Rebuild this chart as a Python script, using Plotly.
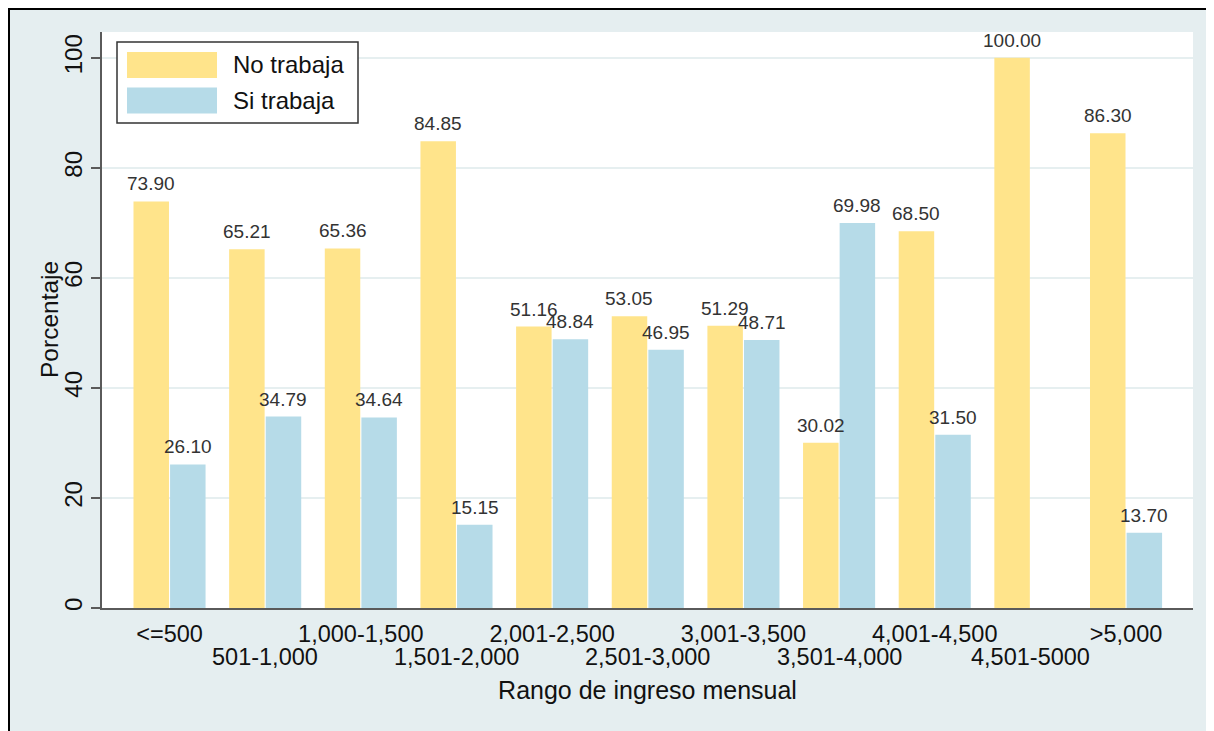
import plotly.graph_objects as go

# ---- data ----
categories = ["<=500", "501-1,000", "1,000-1,500", "1,501-2,000", "2,001-2,500",
              "2,501-3,000", "3,001-3,500", "3,501-4,000", "4,001-4,500",
              "4,501-5000", ">5,000"]
no_trabaja = [73.90, 65.21, 65.36, 84.85, 51.16, 53.05, 51.29, 30.02, 68.50, 100.00, 86.30]
si_trabaja = [26.10, 34.79, 34.64, 15.15, 48.84, 46.95, 48.71, 69.98, 31.50, None, 13.70]
series_names = ["No trabaja", "Si trabaja"]
y_ticks = [0, 20, 40, 60, 80, 100]

# ---- styling ----
OFF = 8  # page body margin
W, H = 1206, 723
ML, MR, MT, MB = 94, 21, 24, 123
PW, PH = W - ML - MR, H - MT - MB
YELLOW = "#FFE48B"
BLUE = "#B6DBE8"
BG = "#E5EEF0"
FONT = "Liberation Sans, Arial, sans-serif"
BARGAP = 0.235


def px_x(p):  # screen px -> paper
    return (p - OFF - ML) / PW


def px_y(p):
    return (H - MB - (p - OFF)) / PH


xs = list(range(len(categories)))
series = [(series_names[0], no_trabaja, YELLOW), (series_names[1], si_trabaja, BLUE)]

fig = go.Figure()
for name, vals, col in series:
    fig.add_trace(go.Bar(
        x=xs, y=vals, name=name,
        marker=dict(color=col, line=dict(width=0)),
        cliponaxis=False, showlegend=False,
        hovertemplate="%{y:.2f}<extra>" + name + "</extra>",
    ))

shapes = []
annotations = []

# value labels above bars (drawn on top of everything)
for k, (name, vals, col) in enumerate(series):
    off = (k - 0.5) * (1 - BARGAP) / 2
    for i, v in zip(xs, vals):
        if v is None:
            continue
        annotations.append(dict(xref="x", yref="y", x=i + off, y=v, text=f"{v:.2f}",
                                showarrow=False, xanchor="center", yanchor="bottom", yshift=5,
                                font=dict(size=19, color="#333333", family=FONT)))

# black border on left/top
shapes.append(dict(type="line", xref="paper", yref="paper", x0=px_x(8.5), x1=px_x(8.5),
                   y0=px_y(H + 20), y1=px_y(7), line=dict(color="black", width=3)))
shapes.append(dict(type="line", xref="paper", yref="paper", x0=px_x(7), x1=px_x(W + 20),
                   y0=px_y(8.5), y1=px_y(8.5), line=dict(color="black", width=3)))

# legend box
shapes.append(dict(type="rect", xref="paper", yref="paper", x0=px_x(117), x1=px_x(358),
                   y0=px_y(123), y1=px_y(42), fillcolor="white",
                   line=dict(color="#333333", width=1.5), layer="above"))
for name, col, yc in [(series_names[0], YELLOW, 65), (series_names[1], BLUE, 100.5)]:
    shapes.append(dict(type="rect", xref="paper", yref="paper", x0=px_x(127), x1=px_x(217),
                       y0=px_y(yc + 13), y1=px_y(yc - 13), fillcolor=col,
                       line=dict(width=0), layer="above"))
    annotations.append(dict(xref="paper", yref="paper", x=px_x(231), y=px_y(yc),
                            text=name, showarrow=False, xanchor="left", yanchor="middle",
                            font=dict(size=24, color="#111111", family=FONT)))

# second row of category labels (staggered)
for i, c in enumerate(categories):
    if i % 2 == 1:
        annotations.append(dict(xref="x", yref="paper", x=i, y=px_y(657), text=c,
                                showarrow=False, xanchor="center", yanchor="middle",
                                font=dict(size=23.5, color="#111111", family=FONT)))

# y axis title
annotations.append(dict(xref="paper", yref="paper", x=px_x(49), y=0.5, text="Porcentaje",
                        textangle=-90, showarrow=False, xanchor="center", yanchor="middle",
                        font=dict(size=24.5, color="#111111", family=FONT)))

fig.update_layout(
    width=W, height=H,
    margin=dict(l=ML, r=MR, t=MT, b=MB),
    paper_bgcolor=BG, plot_bgcolor="white",
    barmode="group", bargap=BARGAP, bargroupgap=0.03,
    font=dict(family=FONT, color="#111111"),
    shapes=shapes, annotations=annotations,
    xaxis=dict(
        range=[-0.706, 10.70], tickmode="array",
        tickvals=[i for i in xs if i % 2 == 0],
        ticktext=[c for i, c in enumerate(categories) if i % 2 == 0],
        ticks="", showgrid=False, zeroline=False, ticklabelstandoff=4,
        showline=True, linecolor="#5a5a5a", linewidth=1.5,
        tickfont=dict(size=23.5, color="#111111"),
        title=dict(text="Rango de ingreso mensual", font=dict(size=25, color="#111111"), standoff=36),
    ),
    yaxis=dict(
        range=[0, 104.7], tickmode="array", tickvals=y_ticks,
        ticks="outside", ticklen=9, tickcolor="#5a5a5a", tickwidth=1.5,
        tickangle=-90, tickfont=dict(size=24, color="#111111"),
        showgrid=True, gridcolor="#E6EFF0", gridwidth=2, zeroline=False,
        showline=True, linecolor="#5a5a5a", linewidth=1.5,
    ),
)

fig.write_html("out.html")
